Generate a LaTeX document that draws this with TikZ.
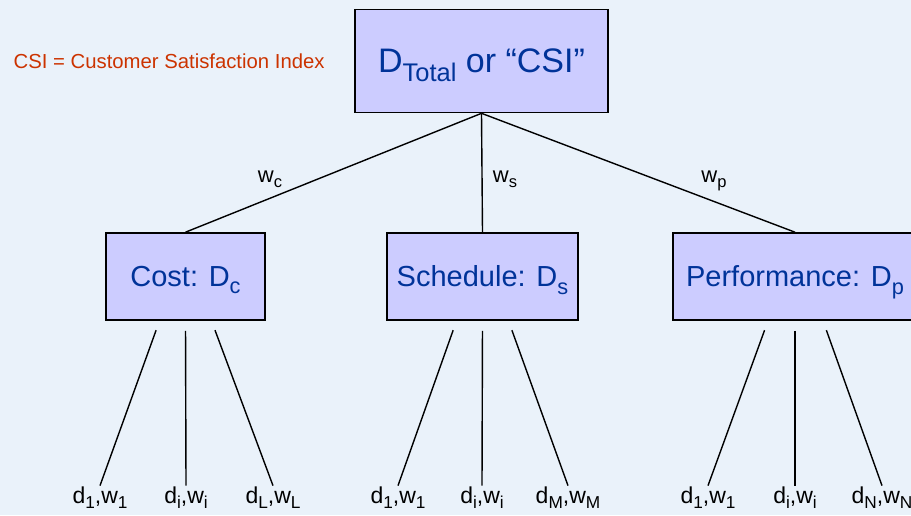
\documentclass[tikz,border=0pt]{standalone}
\usepackage{fontspec}
\setmainfont{Liberation Sans}

\definecolor{boxfill}{RGB}{204,204,255}
\definecolor{boxtext}{RGB}{0,51,153}
\definecolor{notered}{RGB}{204,51,0}
\definecolor{pagebg}{RGB}{234,242,250}

% lowered, smaller text for the subscripts (no effect on the node size)
\newcommand{\low}[1]{\raisebox{-0.25em}[0pt][0pt]{\scalebox{0.75}{#1}}}

\tikzset{
  box/.style={draw=black, line width=1.6pt, fill=boxfill, text=boxtext,
    minimum height=87pt, inner sep=0pt, font=\fontsize{29}{34}\selectfont},
  weight/.style={anchor=base, inner sep=0pt, font=\fontsize{22}{26}\selectfont},
  leaf/.style={anchor=base, inner sep=0pt, font=\fontsize{23}{27}\selectfont}
}

\begin{document}
\begin{tikzpicture}[x=1pt, y=-1pt, line width=1.4pt]
  \fill[pagebg] (0,0) rectangle (911,515);
  \useasboundingbox (0,0) rectangle (911,515);

  \node (note) [anchor=base west, inner sep=0pt, text=notered,
    font=\fontsize{20.3}{24}\selectfont] at (13,68) {CSI = Customer Satisfaction Index};

  \node (total) [box, minimum width=253pt, minimum height=103pt,
    font=\fontsize{34}{40}\selectfont] at (481.5,61) {D\low{Total} or “CSI”}
    [level distance=215.5pt, sibling distance=300pt,
     edge from parent path={(\tikzparentnode.south) -- (\tikzchildnode.north)}]
    child{node (cost) [box, minimum width=159pt, xshift=4pt] {Cost: D\low{c}}}
    child{node (sched) [box, minimum width=191pt, xshift=1pt] {Schedule: D\low{s}}}
    child{node (perf) [box, minimum width=244pt, xshift=13.5pt] {Performance: D\low{p}}};

  % weights on the upper branches
  \node (wc) [weight] at (270,182) {w\low{c}};
  \node (ws) [weight] at (505,182) {w\low{s}};
  \node (wp) [weight] at (714,182) {w\low{p}};

  % leaves
  \node (c1) [leaf] at (100,503) {d\low{1},w\low{1}};
  \node (ci) [leaf] at (186,503) {d\low{i},w\low{i}};
  \node (cL) [leaf] at (273,503) {d\low{L},w\low{L}};
  \node (s1) [leaf] at (398,503) {d\low{1},w\low{1}};
  \node (si) [leaf] at (482,503) {d\low{i},w\low{i}};
  \node (sM) [leaf] at (568,503) {d\low{M},w\low{M}};
  \node (p1) [leaf] at (708,503) {d\low{1},w\low{1}};
  \node (pi) [leaf] at (795,503) {d\low{i},w\low{i}};
  \node (pN) [leaf] at (882,503) {d\low{N},w\low{N}};

  \draw[shorten <=10pt] ([xshift=-26pt]cost.south) -- (c1.north);
  \draw[shorten <=10pt] (cost.south) -- (ci.north);
  \draw[shorten <=10pt] ([xshift=26pt]cost.south) -- (cL.north);
  \draw[shorten <=10pt] ([xshift=-26pt]sched.south) -- (s1.north);
  \draw[shorten <=10pt] (sched.south) -- (si.north);
  \draw[shorten <=10pt] ([xshift=26pt]sched.south) -- (sM.north);
  \draw[shorten <=10pt] ([xshift=-27pt]perf.south) -- (p1.north);
  \draw[shorten <=10pt] (perf.south) -- (pi.north);
  \draw[shorten <=10pt] ([xshift=28pt]perf.south) -- (pN.north);
\end{tikzpicture}
\end{document}
